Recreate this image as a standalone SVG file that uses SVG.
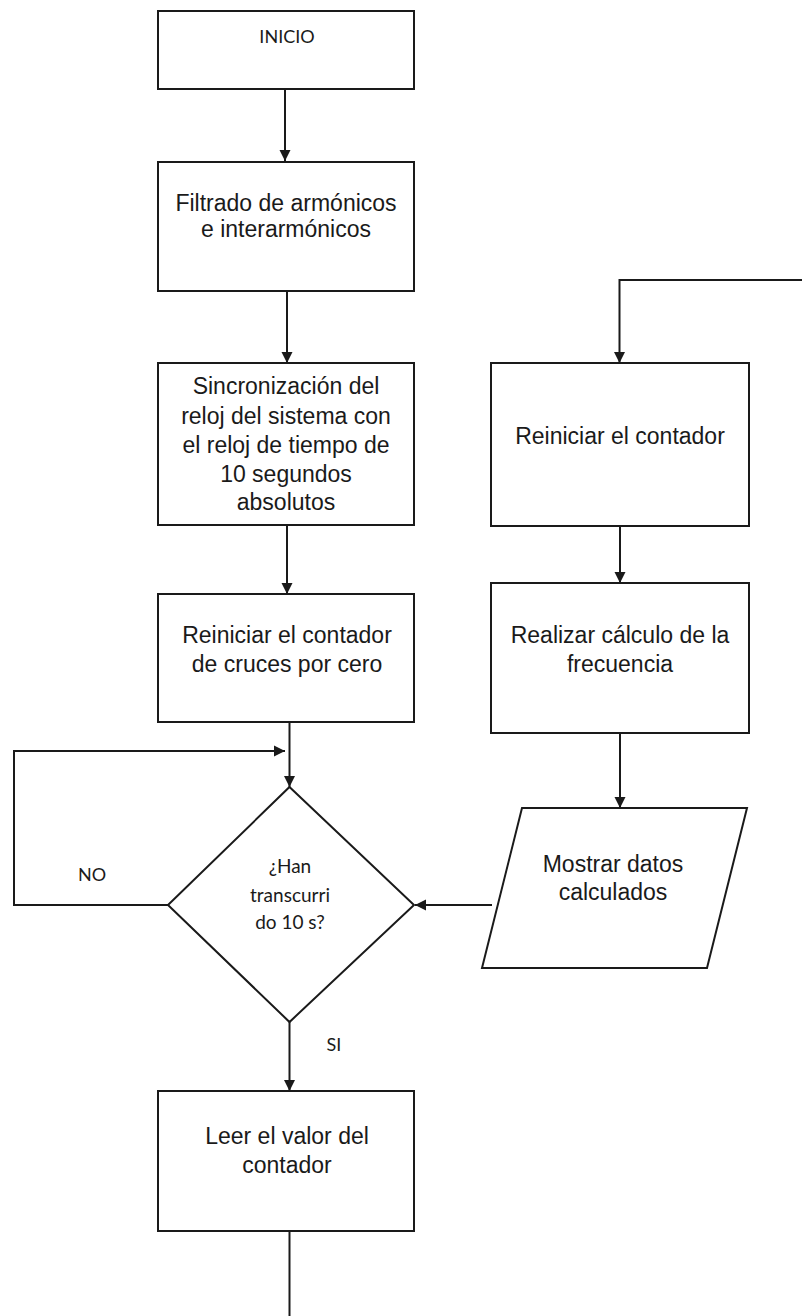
<svg xmlns="http://www.w3.org/2000/svg" width="802" height="1316" viewBox="0 0 802 1316">
  <style>
    .shape { fill: #ffffff; stroke: #1a1a1a; stroke-width: 2; }
    .line { fill: none; stroke: #1a1a1a; stroke-width: 2; }
    .arrow { marker-end: url(#head); }
    .t { font-family: "Liberation Sans", Arial, sans-serif; font-size: 23px; fill: #1a1a1a; text-anchor: middle; }
    .s { font-family: Lato, "Open Sans", sans-serif; font-size: 18px; fill: #1a1a1a; text-anchor: middle; }
    .d { font-family: Lato, "Open Sans", sans-serif; font-size: 19px; fill: #1a1a1a; text-anchor: middle; }
  </style>
  <defs>
    <marker id="head" markerUnits="userSpaceOnUse" markerWidth="12" markerHeight="12" viewBox="0 0 12 12" refX="11" refY="6" orient="auto">
      <path d="M0,0.5 L11,6 L0,11.5 Z" fill="#1a1a1a"/>
    </marker>
  </defs>

  <rect width="802" height="1316" fill="#ffffff"/>

  <!-- connectors -->
  <g id="connectors">
    <line class="line arrow" x1="285" y1="89" x2="285" y2="161"/>
    <line class="line arrow" x1="287" y1="291" x2="287" y2="363"/>
    <line class="line arrow" x1="287" y1="525" x2="287" y2="594"/>
    <line class="line arrow" x1="289.5" y1="722" x2="289.5" y2="787"/>
    <polyline class="line arrow" points="168,905 14,905 14,751 285,751"/>
    <line class="line arrow" x1="289.5" y1="1022" x2="289.5" y2="1091"/>
    <line class="line" x1="289.5" y1="1231" x2="289.5" y2="1316"/>
    <polyline class="line arrow" points="802,280 619.5,280 619.5,363"/>
    <line class="line arrow" x1="620" y1="526" x2="620" y2="583"/>
    <line class="line arrow" x1="620" y1="733" x2="620" y2="808"/>
    <line class="line arrow" x1="492" y1="905" x2="415" y2="905"/>
    <text class="s" x="92" y="881">NO</text>
    <text class="s" x="334" y="1051">SI</text>
  </g>

  <g id="inicio">
    <rect class="shape" x="158" y="11" width="256" height="78"/>
    <text class="s" x="287" y="43">INICIO</text>
  </g>

  <g id="filtrado">
    <rect class="shape" x="158" y="162" width="256" height="129"/>
    <text class="t" x="286" y="211">Filtrado de armónicos</text>
    <text class="t" x="286" y="237">e interarmónicos</text>
  </g>

  <g id="sincronizacion">
    <rect class="shape" x="158" y="363" width="256" height="162"/>
    <text class="t" x="286" y="394">Sincronización del</text>
    <text class="t" x="286" y="424">reloj del sistema con</text>
    <text class="t" x="286" y="453">el reloj de tiempo de</text>
    <text class="t" x="286" y="482">10 segundos</text>
    <text class="t" x="286" y="510">absolutos</text>
  </g>

  <g id="reiniciar-cruces">
    <rect class="shape" x="158" y="594" width="256" height="128"/>
    <text class="t" x="287" y="643">Reiniciar el contador</text>
    <text class="t" x="287" y="672">de cruces por cero</text>
  </g>

  <g id="decision">
    <polygon class="shape" points="289.5,787 414,905 289.5,1022 168,905"/>
    <text class="d" x="290" y="873">¿Han</text>
    <text class="d" x="290" y="902">transcurri</text>
    <text class="d" x="290" y="929">do 10 s?</text>
  </g>

  <g id="leer-contador">
    <rect class="shape" x="158" y="1091" width="256" height="140"/>
    <text class="t" x="287" y="1144">Leer el valor del</text>
    <text class="t" x="287" y="1173">contador</text>
  </g>

  <g id="reiniciar-contador">
    <rect class="shape" x="491" y="363" width="258" height="163"/>
    <text class="t" x="620" y="444">Reiniciar el contador</text>
  </g>

  <g id="calculo-frecuencia">
    <rect class="shape" x="491" y="583" width="258" height="150"/>
    <text class="t" x="620" y="643">Realizar cálculo de la</text>
    <text class="t" x="620" y="672">frecuencia</text>
  </g>

  <g id="mostrar-datos">
    <polygon class="shape" points="522,808 747,808 707,968 482,968"/>
    <text class="t" x="613" y="872">Mostrar datos</text>
    <text class="t" x="613" y="900">calculados</text>
  </g>
</svg>
